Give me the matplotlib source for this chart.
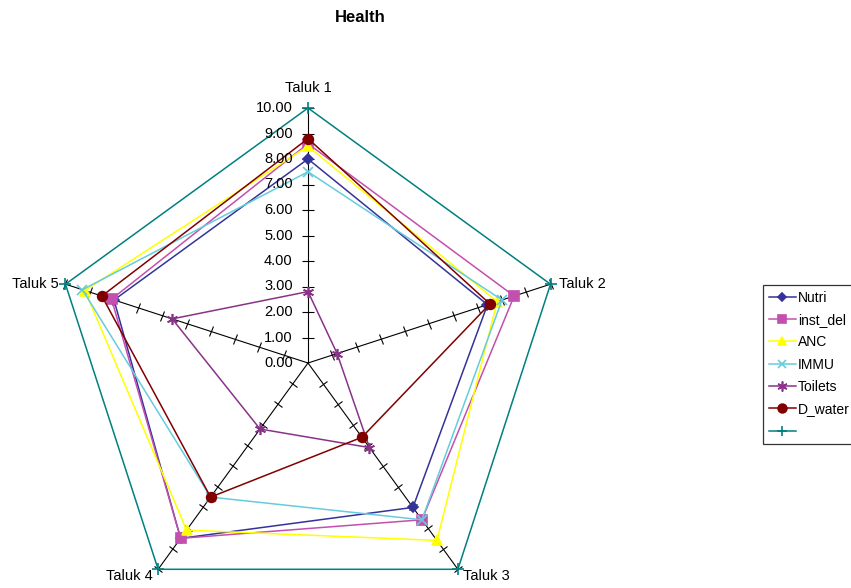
import numpy as np
import matplotlib
matplotlib.use("Agg")
import matplotlib.pyplot as plt
from matplotlib.markers import MarkerStyle
from matplotlib.transforms import Affine2D

plt.rcParams['font.family'] = ['Liberation Sans', 'DejaVu Sans']

categories = ["Taluk 1", "Taluk 2", "Taluk 3", "Taluk 4", "Taluk 5"]
nutri = [8.0, 7.4, 7.0, 8.5, 8.0]
inst_del = [8.6, 8.5, 7.6, 8.5, 8.1]
anc = [8.5, 7.8, 8.6, 8.1, 9.2]
immu = [7.5, 8.0, 7.6, 6.5, 9.3]
toilets = [2.8, 1.2, 4.1, 3.2, 5.6]
d_water = [8.8, 7.5, 3.6, 6.5, 8.5]
maximum = [10, 10, 10, 10, 10]
r_ticks = [0, 1, 2, 3, 4, 5, 6, 7, 8, 9, 10]
r_tick_labels = ["%.2f" % v for v in r_ticks]

series = [
    ("Nutri", nutri, "#333399", "D", 5),
    ("inst_del", inst_del, "#C34FAE", "s", 7),
    ("ANC", anc, "#FFFF00", "^", 7),
    ("IMMU", immu, "#66CCDD", "x", 7),
    ("Toilets", toilets, "#883388", (6, 2, 0), 8),
    ("D_water", d_water, "#800000", "o", 7),
    ("", maximum, "#008080", "+", 8),
]

fig = plt.figure(figsize=(8.51, 5.88), dpi=100)
R = 255
cx, cy = 308, 363
ax = fig.add_axes([(cx - R) / 851, (588 - cy - R) / 588, 2 * R / 851, 2 * R / 588],
                  projection="polar")
ax.set_theta_offset(np.pi / 2)
ax.set_theta_direction(-1)
ax.set_ylim(0, 10)
ax.grid(False)
ax.spines["polar"].set_visible(False)
ax.set_xticks([])
ax.set_yticks([])
ax.patch.set_alpha(0)

n = len(categories)
thetas = np.arange(n) * 2 * np.pi / n

# spokes with cross ticks at each unit
for th in thetas:
    ax.plot([th, th], [0, 10], color="black", lw=0.8, clip_on=False, zorder=1)
    tick_marker = MarkerStyle("_", transform=Affine2D().rotate_deg(-np.degrees(th)))
    ax.plot([th] * 10, r_ticks[1:], linestyle="none", marker=tick_marker,
            ms=8, mec="black", mew=0.8, clip_on=False, zorder=1)

handles = []
labels = []
closed_t = np.append(thetas, thetas[0])
for name, vals, col, mk, ms in series:
    v = list(vals) + [vals[0]]
    line, = ax.plot(closed_t, v, color=col, lw=1.1, marker=mk, ms=ms,
                    mfc=col, mec=col, mew=1.2, clip_on=False, zorder=3,
                    markevery=list(range(n)))
    handles.append(line)
    labels.append(name)

# value labels along the first axis
for v, lab in zip(r_ticks, r_tick_labels):
    ax.annotate(lab, xy=(0, v), xytext=(-11, 0), textcoords="offset points",
                ha="right", va="center", fontsize=10.5, annotation_clip=False)

# category labels
offsets = [((0, 9), "center", "bottom"),
           ((6, 0), "left", "center"),
           ((4, -5), "left", "center"),
           ((-4, -5), "right", "center"),
           ((-5, 0), "right", "center")]
for th, cat, (off, ha, va) in zip(thetas, categories, offsets):
    ax.annotate(cat, xy=(th, 10), xytext=off, textcoords="offset points",
                ha=ha, va=va, fontsize=10.5, annotation_clip=False)

fig.text(360 / 851, 1 - 17 / 588, "Health", ha="center", va="center",
         fontsize=12, fontweight="bold")

leg = fig.legend(handles, labels, loc="upper left",
                 bbox_to_anchor=(763 / 851, 1 - 285 / 588),
                 fontsize=10, frameon=True, fancybox=False, handlelength=2.0,
                 handletextpad=0.1, labelspacing=0.6, borderpad=0.4,
                 borderaxespad=0, markerscale=0.9)
leg.get_frame().set_edgecolor("black")
leg.get_frame().set_linewidth(0.9)

fig.savefig("out.png", dpi=100)
